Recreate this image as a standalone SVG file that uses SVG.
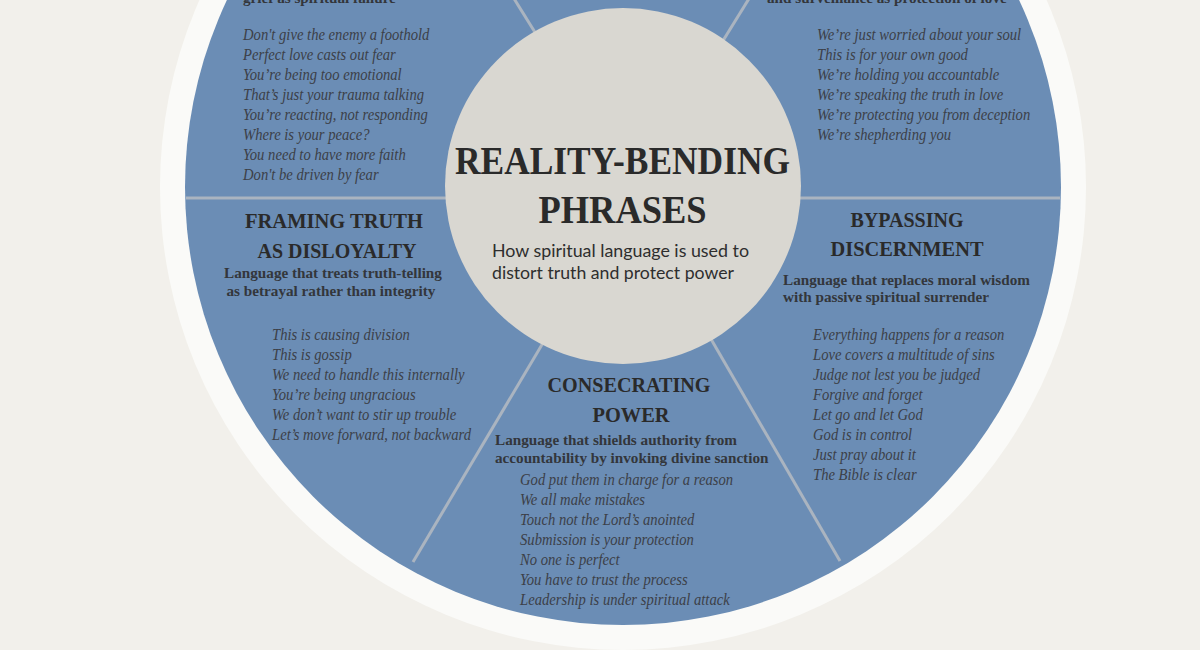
<svg xmlns="http://www.w3.org/2000/svg" width="1200" height="650" viewBox="0 0 1200 650">
<style>
.head{font-family:"Liberation Serif","DejaVu Serif",serif;font-weight:bold;font-size:22px;fill:#2a2a2a;text-anchor:middle}
.title{font-family:"Liberation Serif","DejaVu Serif",serif;font-weight:bold;font-size:41px;fill:#2a2a2a;text-anchor:middle}
.desc{font-family:"Liberation Serif","DejaVu Serif",serif;font-weight:bold;font-size:15.2px;fill:#33363b}
.mid{text-anchor:middle}
.item{font-family:"Liberation Serif","DejaVu Serif",serif;font-style:italic;font-size:16px;fill:#3c4048}
.sub{font-family:Lato,"Open Sans","Liberation Sans",sans-serif;font-size:17px;fill:#2e2e2e}
.div{stroke:#aab4c0;stroke-width:3;fill:none}
</style>
<rect width="1200" height="650" fill="#f2f0eb"/>
<circle cx="623" cy="187" r="463" fill="#fafaf8"/>
<circle cx="623" cy="187" r="438" fill="#6b8db5"/>
<g id="connectors">
<line class="div" x1="186" y1="198" x2="1060" y2="198"/>
<line class="div" x1="632" y1="188" x2="513" y2="-3"/>
<line class="div" x1="632" y1="188" x2="750" y2="-3"/>
<line class="div" x1="629" y1="198" x2="413" y2="562"/>
<line class="div" x1="629" y1="198" x2="840" y2="561"/>
</g>
<g id="center">
<circle cx="623" cy="186" r="178" fill="#d9d7d1"/>
<text class="title" x="622.5" y="174" textLength="335" lengthAdjust="spacingAndGlyphs">REALITY-BENDING</text>
<text class="title" x="622.5" y="223" textLength="168" lengthAdjust="spacingAndGlyphs">PHRASES</text>
<text class="sub" x="492" y="257" textLength="257" lengthAdjust="spacingAndGlyphs">How spiritual language is used to</text>
<text class="sub" x="492" y="279" textLength="242" lengthAdjust="spacingAndGlyphs">distort truth and protect power</text>
</g>
<g id="top-left">
<text class="desc" x="243" y="3">grief as spiritual failure</text>
<g transform="translate(243,0) scale(0.915,1)">
<text class="item" x="0" y="40">Don't give the enemy a foothold</text>
<text class="item" x="0" y="60">Perfect love casts out fear</text>
<text class="item" x="0" y="80">You’re being too emotional</text>
<text class="item" x="0" y="100">That’s just your trauma talking</text>
<text class="item" x="0" y="120">You’re reacting, not responding</text>
<text class="item" x="0" y="140">Where is your peace?</text>
<text class="item" x="0" y="160">You need to have more faith</text>
<text class="item" x="0" y="180">Don't be driven by fear</text>
</g>
</g>
<g id="top-right">
<text class="desc" x="767" y="3">and surveillance as protection of love</text>
<g transform="translate(817,0) scale(0.915,1)">
<text class="item" x="0" y="40">We’re just worried about your soul</text>
<text class="item" x="0" y="60">This is for your own good</text>
<text class="item" x="0" y="80">We’re holding you accountable</text>
<text class="item" x="0" y="100">We’re speaking the truth in love</text>
<text class="item" x="0" y="120">We’re protecting you from deception</text>
<text class="item" x="0" y="140">We’re shepherding you</text>
</g>
</g>
<g id="framing-truth">
<text class="head" x="334" y="228" textLength="178" lengthAdjust="spacingAndGlyphs">FRAMING TRUTH</text>
<text class="head" x="337" y="258" textLength="159" lengthAdjust="spacingAndGlyphs">AS DISLOYALTY</text>
<text class="desc mid" x="333" y="278">Language that treats truth-telling</text>
<text class="desc mid" x="331" y="296">as betrayal rather than integrity</text>
<g transform="translate(272,0) scale(0.915,1)">
<text class="item" x="0" y="340">This is causing division</text>
<text class="item" x="0" y="360">This is gossip</text>
<text class="item" x="0" y="380">We need to handle this internally</text>
<text class="item" x="0" y="400">You’re being ungracious</text>
<text class="item" x="0" y="420">We don’t want to stir up trouble</text>
<text class="item" x="0" y="440">Let’s move forward, not backward</text>
</g>
</g>
<g id="bypassing-discernment">
<text class="head" x="907" y="227" textLength="113" lengthAdjust="spacingAndGlyphs">BYPASSING</text>
<text class="head" x="907" y="256" textLength="153" lengthAdjust="spacingAndGlyphs">DISCERNMENT</text>
<text class="desc" x="783" y="285">Language that replaces moral wisdom</text>
<text class="desc" x="783" y="302">with passive spiritual surrender</text>
<g transform="translate(813,0) scale(0.915,1)">
<text class="item" x="0" y="340">Everything happens for a reason</text>
<text class="item" x="0" y="360">Love covers a multitude of sins</text>
<text class="item" x="0" y="380">Judge not lest you be judged</text>
<text class="item" x="0" y="400">Forgive and forget</text>
<text class="item" x="0" y="420">Let go and let God</text>
<text class="item" x="0" y="440">God is in control</text>
<text class="item" x="0" y="460">Just pray about it</text>
<text class="item" x="0" y="480">The Bible is clear</text>
</g>
</g>
<g id="consecrating-power">
<text class="head" x="629" y="392" textLength="163" lengthAdjust="spacingAndGlyphs">CONSECRATING</text>
<text class="head" x="631" y="422" textLength="77" lengthAdjust="spacingAndGlyphs">POWER</text>
<text class="desc" x="495" y="445">Language that shields authority from</text>
<text class="desc" x="495" y="463">accountability by invoking divine sanction</text>
<g transform="translate(520,0) scale(0.915,1)">
<text class="item" x="0" y="485">God put them in charge for a reason</text>
<text class="item" x="0" y="505">We all make mistakes</text>
<text class="item" x="0" y="525">Touch not the Lord’s anointed</text>
<text class="item" x="0" y="545">Submission is your protection</text>
<text class="item" x="0" y="565">No one is perfect</text>
<text class="item" x="0" y="585">You have to trust the process</text>
<text class="item" x="0" y="605">Leadership is under spiritual attack</text>
</g>
</g>
</svg>
